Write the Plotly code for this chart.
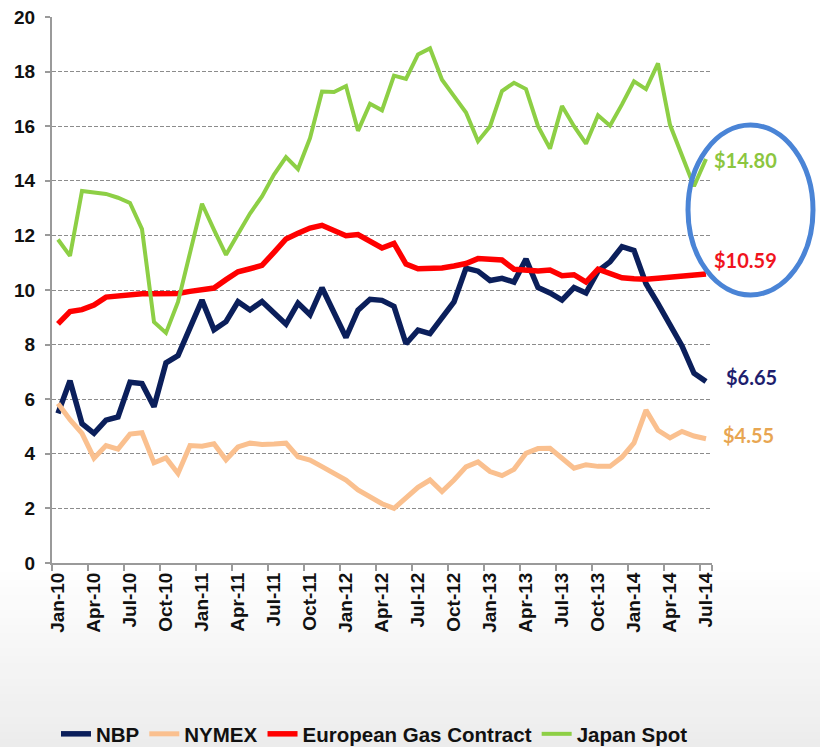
import plotly.graph_objects as go

# ---------------- data ----------------
month_names = ["Jan", "Feb", "Mar", "Apr", "May", "Jun", "Jul", "Aug", "Sep", "Oct", "Nov", "Dec"]
months = [f"{m}-{y:02d}" for y in range(10, 15) for m in month_names][:55]  # Jan-10 .. Jul-14
tick_labels = months[::3]

nbp = [5.48, 6.68, 5.10, 4.75, 5.23, 5.35, 6.62, 6.57, 5.72, 7.33, 7.60, 8.60, 9.63, 8.54, 8.84,
       9.57, 9.27, 9.58, 9.17, 8.75, 9.52, 9.09, 10.08, 9.17, 8.26, 9.26, 9.66, 9.62, 9.40, 8.03,
       8.53, 8.40, 9.00, 9.56, 10.80, 10.69, 10.35, 10.43, 10.29, 11.13, 10.09, 9.89, 9.63, 10.09,
       9.89, 10.69, 11.03, 11.59, 11.45, 10.23, 9.50, 8.75, 7.95, 6.95, 6.65]

nymex = [5.84, 5.25, 4.75, 3.84, 4.30, 4.17, 4.72, 4.77, 3.67, 3.85, 3.28, 4.30, 4.28, 4.37, 3.78,
         4.25, 4.39, 4.34, 4.36, 4.39, 3.89, 3.77, 3.53, 3.31, 3.04, 2.68, 2.42, 2.17, 2.00, 2.40,
         2.77, 3.04, 2.62, 3.04, 3.52, 3.70, 3.35, 3.20, 3.43, 4.02, 4.19, 4.20, 3.82, 3.47, 3.60,
         3.54, 3.54, 3.88, 4.40, 5.60, 4.86, 4.58, 4.82, 4.65, 4.55]

european = [8.76, 9.21, 9.28, 9.45, 9.74, 9.79, 9.83, 9.86, 9.86, 9.86, 9.87, 9.95, 10.00, 10.07, 10.38,
            10.67, 10.78, 10.90, 11.38, 11.87, 12.08, 12.27, 12.37, 12.18, 11.99, 12.03, 11.78, 11.54,
            11.71, 10.95, 10.78, 10.79, 10.81, 10.88, 10.97, 11.15, 11.13, 11.10, 10.76, 10.72, 10.70,
            10.73, 10.52, 10.56, 10.29, 10.76, 10.60, 10.45, 10.41, 10.39, 10.43, 10.47, 10.52, 10.56, 10.59]

japan = [11.85, 11.25, 13.63, 13.58, 13.52, 13.38, 13.19, 12.23, 8.83, 8.43, 9.56, 11.36, 13.16, 12.20,
         11.29, 12.05, 12.80, 13.43, 14.23, 14.87, 14.43, 15.56, 17.27, 17.25, 17.47, 15.83, 16.82,
         16.58, 17.85, 17.73, 18.63, 18.85, 17.70, 17.10, 16.50, 15.45, 15.99, 17.29, 17.59, 17.36,
         16.00, 15.18, 16.74, 16.00, 15.36, 16.40, 16.02, 16.80, 17.64, 17.36, 18.30, 16.05, 14.90,
         13.80, 14.80]

series_names = ["NBP", "NYMEX", "European Gas Contract", "Japan Spot"]
end_labels = ["$14.80", "$10.59", "$6.65", "$4.55"]

# ---------------- styling ----------------
W, H = 820, 747
L, R, T, B = 52, 108, 17, 184
PW, PH = W - L - R, H - T - B

def px_x(x):
    return (x - L) / PW

def px_y(y):
    return (H - B - y) / PH

colors = ["#0B1F5B", "#FAC08F", "#FF0000", "#8DCF45"]
widths = [5.5, 5, 5.5, 4]

fig = go.Figure()
for name, vals, c, w in zip(series_names, [nbp, nymex, european, japan], colors, widths):
    fig.add_trace(go.Scatter(x=months, y=vals, mode="lines", name=name,
                             line=dict(color=c, width=w)))

# background gradient (white -> light grey) at the bottom
shapes = []
n_bands = 24
top_px, bot_px = 565, H
for k in range(n_bands):
    y0 = top_px + (bot_px - top_px) * k / n_bands
    y1 = top_px + (bot_px - top_px) * (k + 1) / n_bands + 1
    g = int(round(255 - (255 - 236) * (k + 0.5) / n_bands))
    shapes.append(dict(type="rect", xref="paper", yref="paper", layer="below",
                       x0=px_x(0), x1=px_x(W), y0=px_y(y1), y1=px_y(y0),
                       fillcolor=f"rgb({g},{g},{g})", line=dict(width=0)))

# highlight ellipse
shapes.append(dict(type="circle", xref="paper", yref="paper",
                   x0=px_x(688), x1=px_x(813), y0=px_y(295), y1=px_y(125),
                   line=dict(color="#4A84D6", width=5)))

ann_colors = ["#8CC63F", "#F0141E", "#1E1E6E", "#E8A652"]
ann_pos = [(712, 160), (712, 260), (724, 377), (721, 435)]
annotations = []
for txt, col, (xp, yp) in zip(end_labels, ann_colors, ann_pos):
    annotations.append(dict(text=txt, xref="paper", yref="paper", x=px_x(xp), y=px_y(yp),
                            xanchor="left", yanchor="middle", showarrow=False,
                            font=dict(family="Lato, Open Sans, sans-serif", size=20,
                                      color=col, weight="bold")))

fig.update_layout(
    width=W, height=H,
    margin=dict(l=L, r=R, t=T, b=B, autoexpand=False),
    paper_bgcolor="white", plot_bgcolor="rgba(0,0,0,0)",
    font=dict(family="Liberation Sans, Arial, sans-serif", color="#111111"),
    shapes=shapes, annotations=annotations,
    showlegend=True,
    legend=dict(orientation="h", xref="container", yref="container",
                x=56 / W, xanchor="left", y=(H - 734) / H, yanchor="middle",
                font=dict(size=20.5, weight="bold", color="#111111"),
                bgcolor="rgba(0,0,0,0)", itemwidth=30, tracegroupgap=0),
)

fig.update_xaxes(
    type="category", categoryorder="array", categoryarray=months,
    range=[-0.5, 54.5], tickmode="array", tickvals=tick_labels, ticktext=tick_labels,
    tickson="boundaries", tickangle=-90, automargin=False,
    ticks="outside", ticklen=6, tickcolor="#9A9A9A", tickwidth=1.5,
    showline=True, linecolor="#9A9A9A", linewidth=2,
    showgrid=False, zeroline=False,
    tickfont=dict(size=19, weight="bold", color="#111111"),
)
fig.update_yaxes(
    range=[0, 20], tickmode="array", tickvals=list(range(0, 21, 2)),
    automargin=False, ticklabelstandoff=6,
    ticks="outside", ticklen=5, tickcolor="#9A9A9A", tickwidth=1.5,
    showline=True, linecolor="#9A9A9A", linewidth=2,
    showgrid=True, gridcolor="#8C8C8C", gridwidth=1.2, griddash="4px,2px",
    zeroline=False,
    tickfont=dict(size=19, weight="bold", color="#111111"),
)

fig.write_html("out.html", config={"displayModeBar": False},
               post_script="document.body.style.margin='0';document.body.style.overflow='hidden';")
